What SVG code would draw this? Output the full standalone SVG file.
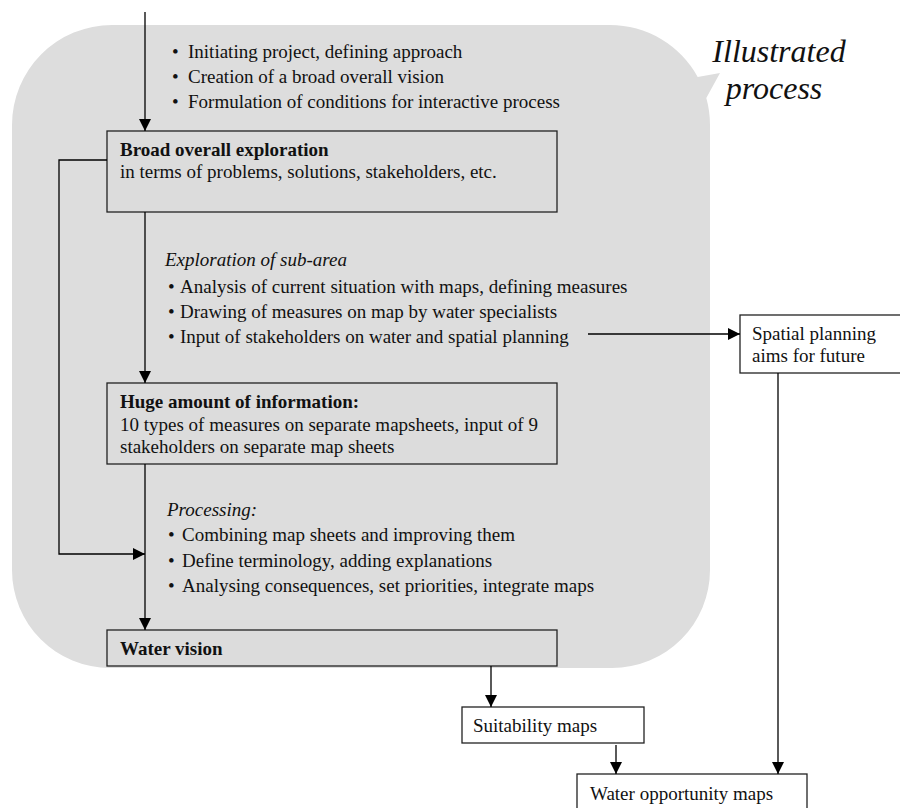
<svg xmlns="http://www.w3.org/2000/svg" width="900" height="808" viewBox="0 0 900 808">
<defs>
<marker id="ah" viewBox="0 0 12 12" refX="12" refY="6" markerWidth="12" markerHeight="12" markerUnits="userSpaceOnUse" orient="auto">
<path d="M0,0 L12,6 L0,12 Z" fill="#000"/>
</marker>
</defs>
<style>
text{font-family:"Liberation Serif","Times New Roman",serif;font-size:19px;fill:#111}
.b{font-weight:bold}
.i{font-style:italic}
.big{font-size:32px;font-style:italic}
.box{fill:#dcdcdc;stroke:#222;stroke-width:1.3}
.wbox{fill:#fff;stroke:#222;stroke-width:1.3}
.c{fill:none;stroke:#000;stroke-width:1.3}
.a{marker-end:url(#ah)}
</style>
<rect width="900" height="808" fill="#fff"/>
<g id="bubble">
<path d="M12,125 A100,100 0 0 1 112,25 L610,25 A100,100 0 0 1 697.7,77 L720,73 L706.3,98 A100,100 0 0 1 710,125 L710,570 A98,98 0 0 1 612,668 L110,668 A98,98 0 0 1 12,570 Z" fill="#dddddd"/>
<text class="big" x="779" y="62" text-anchor="middle">Illustrated</text>
<text class="big" x="774" y="99" text-anchor="middle">process</text>
</g>
<g id="notes-start">
<text x="172" y="58">•</text><text x="188" y="58">Initiating project, defining approach</text>
<text x="172" y="83">•</text><text x="188" y="83">Creation of a broad overall vision</text>
<text x="172" y="108">•</text><text x="188" y="108">Formulation of conditions for interactive process</text>
</g>
<g id="notes-exploration">
<text class="i" x="165" y="266">Exploration of sub-area</text>
<text x="168" y="293">•</text><text x="180" y="293">Analysis of current situation with maps, defining measures</text>
<text x="168" y="318">•</text><text x="180" y="318">Drawing of measures on map by water specialists</text>
<text x="168" y="343">•</text><text x="180" y="343">Input of stakeholders on water and spatial planning</text>
</g>
<g id="notes-processing">
<text class="i" x="167" y="516">Processing:</text>
<text x="168" y="541">•</text><text x="182" y="541">Combining map sheets and improving them</text>
<text x="168" y="567">•</text><text x="182" y="567">Define terminology, adding explanations</text>
<text x="168" y="592">•</text><text x="182" y="592">Analysing consequences, set priorities, integrate maps</text>
</g>
<g id="broad">
<rect class="box" x="107" y="131" width="450" height="81"/>
<text class="b" x="120" y="156">Broad overall exploration</text>
<text x="120" y="178">in terms of problems, solutions, stakeholders, etc.</text>
</g>
<g id="huge">
<rect class="box" x="107" y="383" width="450" height="81"/>
<text class="b" x="120" y="408">Huge amount of information:</text>
<text x="120" y="431">10 types of measures on separate mapsheets, input of 9</text>
<text x="120" y="453">stakeholders on separate map sheets</text>
</g>
<g id="water-vision">
<rect class="box" x="107" y="630" width="450" height="36"/>
<text class="b" x="120" y="655">Water vision</text>
</g>
<g id="spatial">
<rect class="wbox" x="740" y="315" width="170" height="58"/>
<text x="752" y="340">Spatial planning</text>
<text x="752" y="362">aims for future</text>
</g>
<g id="suitability">
<rect class="wbox" x="462" y="707" width="182" height="36"/>
<text x="473" y="732">Suitability maps</text>
</g>
<g id="opportunity">
<rect class="wbox" x="577" y="774" width="230" height="50"/>
<text x="590" y="800">Water opportunity maps</text>
</g>
<g id="connectors">
<path class="c a" d="M145,12 L145,131"/>
<path class="c a" d="M145,212 L145,383"/>
<path class="c a" d="M145,464 L145,630"/>
<path class="c a" d="M107,160 L59,160 L59,554 L145,554"/>
<path class="c a" d="M588,334 L740,334"/>
<path class="c a" d="M491,666 L491,707"/>
<path class="c a" d="M616,745 L616,774"/>
<path class="c a" d="M778,373 L778,774"/>
</g>
</svg>
